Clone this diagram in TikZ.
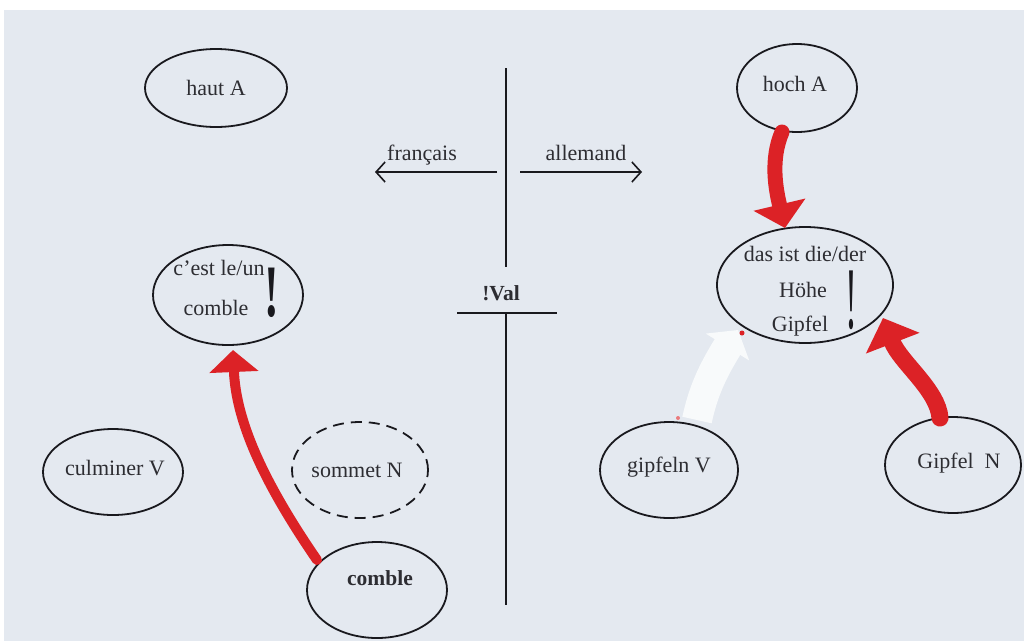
\documentclass[tikz,border=0pt]{standalone}
\usepackage{fontspec}
\setmainfont{Liberation Serif}
\usetikzlibrary{shapes.geometric,arrows.meta,calc}
\definecolor{paper}{RGB}{228,233,240}
\definecolor{marker}{RGB}{220,34,38}
\definecolor{ink}{RGB}{25,25,30}
\definecolor{tink}{RGB}{45,45,50}
\begin{document}
\begin{tikzpicture}[x=1pt,y=-1pt,
  oval/.style={draw=ink,line width=1.8pt,ellipse,inner sep=0pt},
  lbl/.style={font=\fontsize{22}{24}\selectfont,text=tink,inner sep=0pt},
  axis/.style={draw=ink,line width=2.2pt},
  side/.style={draw=ink,line width=1.6pt,-{Straight Barb[length=9pt,width=20pt,line width=1.6pt]}},
  redarrow/.style={draw=marker,line cap=round}]
\useasboundingbox (0,0) rectangle (1024,641);
\fill[white] (0,0) rectangle (1024,641);
\fill[paper] (4,10) rectangle (1024,641);

% ellipses
\node[oval,minimum width=142pt,minimum height=78pt] (haut) at (216,88) {};
\node[lbl] (hautt) at (216,88) {haut A};
\node[oval,minimum width=120pt,minimum height=88pt] (hoch) at (797,88) {};
\node[lbl] (hocht) at (795,84) {hoch A};
\node[oval,minimum width=150pt,minimum height=100pt] (cest) at (228,295) {};
\node[lbl] (cest1) at (219,268) {c'est le/un};
\node[lbl] (cest2) at (216,308) {comble};
\node[inner sep=0pt,text=ink] (cestx) at (272,293) {\scalebox{1.1}[1.85]{\fontsize{40}{40}\selectfont\bfseries !}};
\node[oval,minimum width=176pt,minimum height=116pt] (das) at (805,285) {};
\node[lbl] (das1) at (805,254) {das ist die/der};
\node[lbl] (das2) at (803,290) {Höhe};
\node[lbl] (das3) at (800,326) {Gipfel};
\node[inner sep=0pt,text=ink] (dasx) at (851,300) {\scalebox{0.9}[2.2]{\fontsize{40}{40}\selectfont !}};
\node[oval,minimum width=140pt,minimum height=86pt] (culm) at (113,472) {};
\node[lbl] (culmt) at (115,468) {culminer V};
\node[oval,dashed,dash pattern=on 11pt off 7pt,minimum width=136pt,minimum height=96pt] (somm) at (360,470) {};
\node[lbl] (sommt) at (357,470) {sommet N};
\node[oval,minimum width=140pt,minimum height=96pt] (comb) at (377,590) {};
\node[lbl,font=\fontsize{21.5}{24}\selectfont\bfseries] (combt) at (380,578) {comble};
\node[oval,minimum width=138pt,minimum height=96pt] (gipv) at (669,470) {};
\node[lbl] (gipvt) at (669,467) {gipfeln V};
\node[oval,minimum width=136pt,minimum height=96pt] (gipn) at (953,465) {};
\node[lbl] (gipnt) at (959,463) {Gipfel\ \ N};

% central divider
\coordinate (vtop) at (506,68);
\coordinate (vmid) at (506,267);
\node[lbl,font=\fontsize{21.5}{24}\selectfont\bfseries] (val) at (501,293) {!Val};
\coordinate (barl) at (457,313);
\coordinate (barr) at (557,313);
\coordinate (vbar) at (506,313);
\coordinate (vbot) at (506,605);
\draw[axis] (vtop) -- (vmid);
\draw[axis] (barl) -- (barr);
\draw[axis] (vbar) -- (vbot);

% language arrows
\coordinate (fs) at (497,172);
\coordinate (fe) at (375,172);
\coordinate (as) at (520,172);
\coordinate (ae) at (642,172);
\draw[side] (fs) -- (fe);
\draw[side] (as) -- (ae);
\node[lbl] (fr) at (422,155) {français};
\node[lbl] (de) at (586,153) {allemand};

% whited-out arrow
\coordinate (ws) at (697,420);
\coordinate (we) at (738,330);
\draw[draw=white!75!paper,line width=30pt,-{Triangle[length=20pt,width=50pt]}] (ws) .. controls (703,392) and (712,372) .. (we);
\fill[marker] (742,333) circle (2.5pt);
\fill[marker!60!white] (678,418) circle (2pt);

% red arrows
\coordinate (a1s) at (317,560);
\coordinate (a1e) at (233,350);
\draw[redarrow,line width=10pt,-{Triangle[length=22pt,width=48pt]}]
  (a1s) .. controls (262,480) and (236,420) .. (a1e);
\coordinate (a2s) at (782,132);
\coordinate (a2e) at (785,228);
\draw[redarrow,line width=15pt,-{Triangle[length=24pt,width=52pt]}]
  (a2s) .. controls (770,160) and (776,190) .. (a2e);
\coordinate (a3s) at (940,418);
\coordinate (a3e) at (883,318);
\draw[redarrow,line width=17pt,-{Triangle[length=27pt,width=56pt]}]
  (a3s) .. controls (938,390) and (900,362) .. (a3e);
\end{tikzpicture}
\end{document}
